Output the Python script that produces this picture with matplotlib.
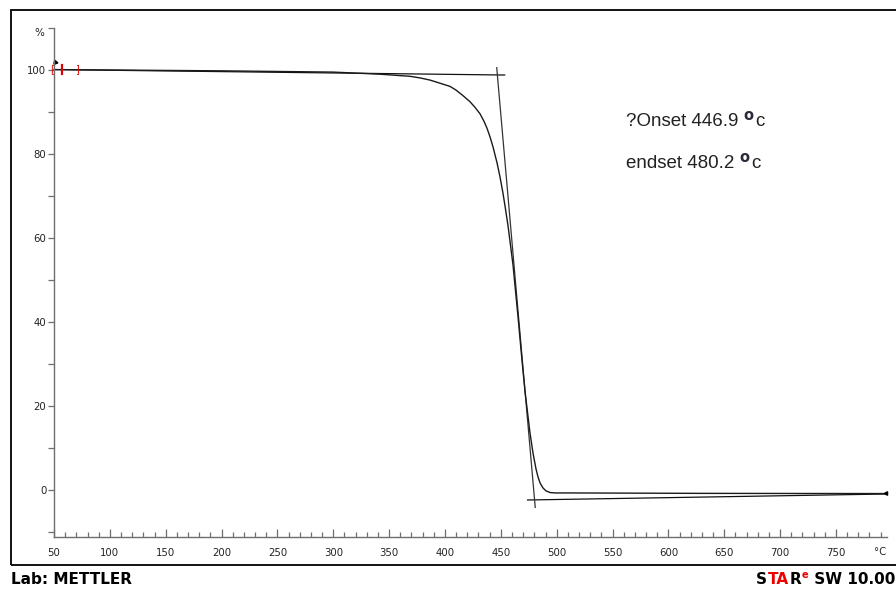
import matplotlib
matplotlib.use("Agg")
import matplotlib.pyplot as plt
from matplotlib.patches import Rectangle

# TGA mass-loss curve: temperature (°C) vs. remaining mass (%)
temp_c = [50, 100, 200, 300, 341.8, 355.3, 368.7, 378.0, 386.6, 395.0,
          404.5, 410.0, 416.1, 422.4, 426.9, 431.3, 435.0, 437.6, 440.3,
          443.0, 446.6, 449.3, 451.9, 453.7, 456.4, 460.9, 465.4, 468.9,
          471.6, 476.1, 478.8, 481.5, 483.3, 485.1, 487.7, 490.4, 494.0,
          498.5, 511.9, 628.3, 796.0]
mass_pct = [100.1, 100.0, 99.8, 99.5, 99.0, 98.75, 98.5, 98.1, 97.6, 96.9,
            96.1, 95.2, 93.9, 92.45, 91.1, 89.6, 87.75, 86.15, 84.1,
            81.7, 77.9, 74.5, 70.7, 67.7, 63.0, 53.6, 41.2, 31.0,
            23.6, 13.6, 8.8, 5.0, 3.1, 1.7, 0.5, -0.2, -0.6,
            -0.7, -0.7, -0.8, -0.85]

# Evaluation results
onset_c = 446.9
endset_c = 480.2

# Baselines used for the onset / endset construction
base1_t = [50.0, 454.0]
base1_w = [100.1, 98.8]
base2_t = [473.4, 796.0]
base2_w = [-2.38, -0.95]
tangent_w_ends = [100.7, -4.3]

# Evaluation range markers at the start of the curve
range_bracket_t = [48.2, 70.6]
range_cursor_t = [57.1]

x_major = list(range(50, 751, 50))
x_minor = list(range(60, 791, 10))
y_major = [0, 20, 40, 60, 80, 100]
y_minor = [-10, 10, 30, 50, 70, 90, 110]

W, H = 896, 591
fig = plt.figure(figsize=(W / 100, H / 100), dpi=100)
fig.patch.set_facecolor("white")


def fx(px):
    return px / W


def fy(py):
    return 1 - py / H


ax = fig.add_axes([fx(54), fy(537), (887 - 54) / W, (537 - 28) / H])
ax.set_xlim(50, 795.7)
ax.set_ylim(-11.19, 110)
ax.patch.set_alpha(0)

for side in ("top", "right"):
    ax.spines[side].set_visible(False)
for side in ("left", "bottom"):
    ax.spines[side].set_color("#6e6e6e")
    ax.spines[side].set_linewidth(1.0)

ax.set_xticks(x_major)
ax.set_xticks(x_minor, minor=True)
ax.set_yticks(y_major)
ax.set_yticks(y_minor, minor=True)
ax.tick_params(axis="x", which="major", direction="in", length=6, width=0.9,
               color="#6e6e6e", labelsize=7.3, labelcolor="#222222", pad=8)
ax.tick_params(axis="x", which="minor", direction="in", length=3.5, width=0.9,
               color="#6e6e6e")
ax.tick_params(axis="y", which="both", direction="out", length=4, width=0.9,
               color="#6e6e6e", labelsize=7.3, labelcolor="#222222", pad=1.5)

# Tangent constructions
def lerp(t, ts, ws):
    return ws[0] + (ws[1] - ws[0]) * (t - ts[0]) / (ts[1] - ts[0])

w_on = lerp(onset_c, base1_t, base1_w)
w_end = lerp(endset_c, base2_t, base2_w)
slope = (w_end - w_on) / (endset_c - onset_c)
tan_t = [onset_c + (w - w_on) / slope for w in tangent_w_ends]

ax.plot(base1_t, base1_w, color="#111111", lw=0.9, solid_capstyle="butt")
ax.plot(base2_t, base2_w, color="#111111", lw=0.9, solid_capstyle="butt")
ax.plot(tan_t, tangent_w_ends, color="#333333", lw=0.9, solid_capstyle="butt")

# Measured curve
ax.plot(temp_c, mass_pct, color="#1a1a1a", lw=1.0, clip_on=False,
        solid_joinstyle="round")

# Range markers
for t, s in zip(range_bracket_t, ["[", "]"]):
    ax.text(t, mass_pct[0], s, color="#e00000", fontsize=7, ha="center",
            va="center")
ax.plot([range_cursor_t[0]] * 2, [99.1, 101.1], color="#e00000", lw=1.6)
ax.plot([50.8], [101.9], marker=(3, 0, 20), color="black", markersize=3.5,
        clip_on=False)
ax.plot([795.0], [-0.6], marker=(3, 0, 90), color="black", markersize=3,
        clip_on=False)

# Axis unit labels
fig.text(fx(39), fy(33), "%", fontsize=7.5, color="#222222", ha="center",
         va="center")
fig.text(fx(880), fy(552), "°C", fontsize=7.3, color="#222222", ha="center",
         va="center")

# Outer frame
fig.add_artist(Rectangle((fx(11), fy(565)), (W + 20 - 11) / W, (565 - 10) / H,
                         transform=fig.transFigure, fill=False,
                         edgecolor="black", lw=1.3))

renderer = fig.canvas.get_renderer()


def run_text(x_px, y_px, pieces):
    """Draw consecutive text pieces left to right starting at pixel x."""
    x = x_px
    for s, kw in pieces:
        dy = kw.pop("dy", 0)
        gap = kw.pop("gap", 0)
        t = fig.text(fx(x), fy(y_px + dy), s, va="center", ha="left", **kw)
        bb = t.get_window_extent(renderer=renderer)
        x += bb.width + gap
    return x


ann = dict(fontsize=13.5, family="Liberation Sans", color="#222222")
ring = dict(fontsize=10.5, family="DejaVu Sans", fontweight="bold",
            color="#2a2a3a")
run_text(626, 121, [(f"?Onset {onset_c:.1f} ", dict(ann)),
                    ("o", dict(ring, dy=-6, gap=2)),
                    ("c", dict(ann))])
run_text(626, 163, [(f"endset {endset_c:.1f} ", dict(ann)),
                    ("o", dict(ring, dy=-6, gap=2)),
                    ("c", dict(ann))])

foot = dict(fontsize=11, fontweight="bold", family="DejaVu Sans")
fig.text(fx(11), fy(579), "Lab: METTLER", va="center", ha="left", **foot)

# Software stamp with coloured letters
red = "#ee0000"
run_text(756, 579, [("S", dict(foot, color="black", gap=0.5)),
                    ("TA", dict(foot, color=red, gap=0.5)),
                    ("R", dict(foot, color="black", gap=0.5)),
                    ("e", dict(fontsize=7, fontweight="bold", color=red,
                               dy=-4, gap=0.5)),
                    (" SW 10.00", dict(foot, color="black"))])

fig.savefig("out.png", dpi=100, facecolor="white")
